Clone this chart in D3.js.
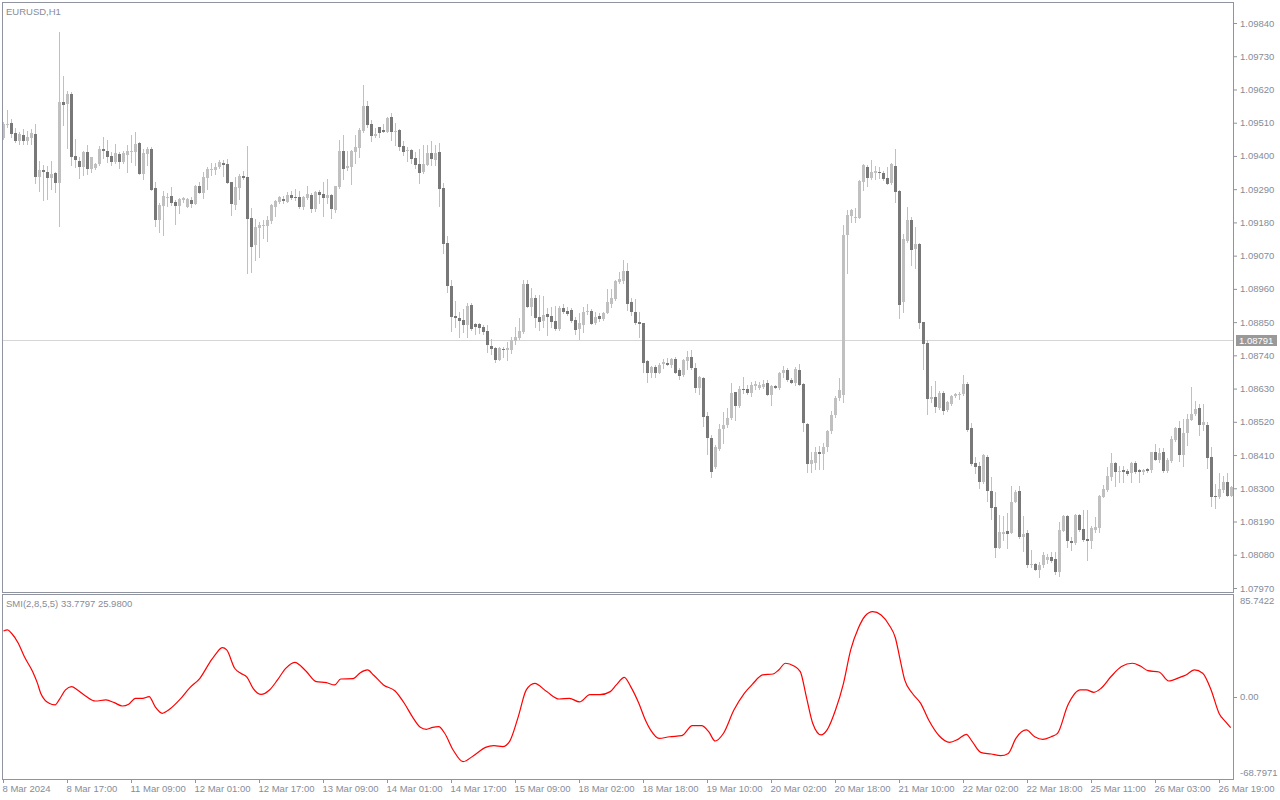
<!DOCTYPE html>
<html><head><meta charset="utf-8">
<script src="https://cdn.jsdelivr.net/npm/d3@7"></script>
<style>
html,body{margin:0;padding:0;background:#fff;overflow:hidden}
svg{display:block}
</style></head><body>
<svg id="c" width="1280" height="800"></svg>
<script>
const chartTitle = "EURUSD,H1";
const smiTitle = "SMI(2,8,5,5) 33.7797 25.9800";

const open = [1.09460,1.09502,1.09508,1.09476,1.09449,1.09469,1.09449,1.09460,1.09472,1.09330,
1.09353,1.09346,1.09327,1.09343,1.09311,1.09577,1.09573,1.09605,1.09399,1.09383,
1.09364,1.09413,1.09357,1.09359,1.09373,1.09423,1.09416,1.09399,1.09380,1.09407,
1.09380,1.09403,1.09413,1.09413,1.09444,1.09340,1.09407,1.09423,1.09294,1.09188,
1.09234,1.09260,1.09267,1.09247,1.09234,1.09254,1.09231,1.09254,1.09241,1.09301,
1.09277,1.09327,1.09354,1.09353,1.09362,1.09376,1.09373,1.09313,1.09238,1.09295,
1.09333,1.09330,1.09194,1.09106,1.09162,1.09169,1.09169,1.09185,1.09232,1.09248,
1.09258,1.09248,1.09270,1.09265,1.09264,1.09231,1.09262,1.09270,1.09225,1.09280,
1.09274,1.09262,1.09270,1.09222,1.09297,1.09416,1.09360,1.09363,1.09413,1.09426,
1.09482,1.09565,1.09505,1.09467,1.09495,1.09485,1.09480,1.09529,1.09479,1.09485,
1.09433,1.09417,1.09419,1.09393,1.09373,1.09346,1.09371,1.09410,1.09388,1.09413,
1.09294,1.09112,1.08970,1.08870,1.08864,1.08857,1.08842,1.08908,1.08845,1.08845,
1.08835,1.08822,1.08772,1.08764,1.08723,1.08762,1.08757,1.08759,1.08789,1.08799,
1.08817,1.08976,1.08900,1.08931,1.08867,1.08854,1.08878,1.08870,1.08854,1.08827,
1.08898,1.08888,1.08890,1.08857,1.08827,1.08842,1.08882,1.08887,1.08847,1.08870,
1.08860,1.08880,1.08910,1.08926,1.08984,1.08987,1.09019,1.08915,1.08884,1.08851,
1.08847,1.08720,1.08680,1.08703,1.08683,1.08713,1.08715,1.08709,1.08728,1.08690,
1.08676,1.08722,1.08735,1.08699,1.08633,1.08666,1.08540,1.08467,1.08369,1.08430,
1.08497,1.08508,1.08534,1.08620,1.08573,1.08630,1.08630,1.08617,1.08637,1.08632,
1.08636,1.08650,1.08610,1.08637,1.08632,1.08683,1.08692,1.08660,1.08647,1.08692,
1.08645,1.08514,1.08382,1.08385,1.08421,1.08412,1.08438,1.08488,1.08541,1.08598,
1.08609,1.09139,1.09201,1.09193,1.09195,1.09315,1.09365,1.09328,1.09345,1.09347,
1.09345,1.09328,1.09312,1.09368,1.09285,1.08918,1.09120,1.09188,1.09093,1.09109,
1.08852,1.08781,1.08594,1.08603,1.08565,1.08617,1.08559,1.08580,1.08607,1.08610,
1.08613,1.08646,1.08498,1.08385,1.08375,1.08322,1.08405,1.08292,1.08239,1.08104,
1.08150,1.08160,1.08153,1.08256,1.08292,1.08140,1.08153,1.08046,1.08049,1.08031,
1.08046,1.08064,1.08074,1.08067,1.08023,1.08159,1.08208,1.08127,1.08120,1.08212,
1.08166,1.08133,1.08127,1.08162,1.08169,1.08272,1.08294,1.08336,1.08383,1.08354,
1.08359,1.08357,1.08350,1.08383,1.08361,1.08354,1.08363,1.08359,1.08420,1.08395,
1.08419,1.08357,1.08391,1.08460,1.08500,1.08410,1.08484,1.08527,1.08545,1.08566,
1.08509,1.08511,1.08405,1.08274,1.08271,1.08294,1.08321,1.08276];

const high = [1.09513,1.09552,1.09521,1.09491,1.09478,1.09489,1.09482,1.09489,1.09505,1.09383,
1.09370,1.09366,1.09383,1.09348,1.09811,1.09664,1.09616,1.09612,1.09456,1.09397,
1.09416,1.09436,1.09396,1.09376,1.09434,1.09462,1.09452,1.09414,1.09440,1.09414,
1.09416,1.09436,1.09469,1.09479,1.09447,1.09423,1.09430,1.09430,1.09314,1.09245,
1.09285,1.09278,1.09297,1.09254,1.09260,1.09265,1.09260,1.09265,1.09303,1.09314,
1.09348,1.09364,1.09377,1.09375,1.09386,1.09388,1.09390,1.09314,1.09331,1.09340,
1.09351,1.09433,1.09227,1.09190,1.09182,1.09188,1.09201,1.09241,1.09254,1.09267,
1.09267,1.09281,1.09284,1.09290,1.09284,1.09269,1.09300,1.09276,1.09284,1.09287,
1.09313,1.09323,1.09274,1.09302,1.09452,1.09469,1.09416,1.09419,1.09469,1.09491,
1.09634,1.09583,1.09519,1.09491,1.09497,1.09505,1.09530,1.09543,1.09508,1.09488,
1.09449,1.09430,1.09424,1.09414,1.09423,1.09436,1.09436,1.09450,1.09436,1.09442,
1.09309,1.09135,1.08990,1.08920,1.08882,1.08894,1.08912,1.08912,1.08848,1.08848,
1.08842,1.08839,1.08795,1.08769,1.08769,1.08767,1.08784,1.08801,1.08835,1.08863,
1.08990,1.08990,1.08962,1.08941,1.08941,1.08937,1.08897,1.08900,1.08903,1.08903,
1.08911,1.08901,1.08896,1.08866,1.08879,1.08901,1.08910,1.08895,1.08884,1.08881,
1.08884,1.08960,1.08961,1.08990,1.09017,1.09056,1.09045,1.08929,1.08927,1.08884,
1.08847,1.08724,1.08705,1.08708,1.08714,1.08728,1.08732,1.08732,1.08734,1.08697,
1.08728,1.08755,1.08758,1.08714,1.08672,1.08670,1.08551,1.08477,1.08444,1.08513,
1.08552,1.08565,1.08650,1.08620,1.08637,1.08670,1.08642,1.08651,1.08655,1.08653,
1.08657,1.08657,1.08643,1.08642,1.08686,1.08705,1.08698,1.08666,1.08703,1.08712,
1.08648,1.08517,1.08421,1.08438,1.08440,1.08449,1.08493,1.08557,1.08607,1.08664,
1.09172,1.09221,1.09224,1.09229,1.09321,1.09374,1.09370,1.09385,1.09367,1.09365,
1.09351,1.09365,1.09378,1.09423,1.09287,1.09142,1.09232,1.09199,1.09166,1.09113,
1.08852,1.08791,1.08640,1.08656,1.08623,1.08623,1.08590,1.08609,1.08617,1.08620,
1.08676,1.08652,1.08515,1.08405,1.08388,1.08415,1.08409,1.08339,1.08289,1.08212,
1.08208,1.08217,1.08306,1.08295,1.08308,1.08208,1.08162,1.08096,1.08054,1.08057,
1.08090,1.08081,1.08088,1.08090,1.08190,1.08212,1.08212,1.08139,1.08214,1.08214,
1.08227,1.08228,1.08176,1.08206,1.08278,1.08311,1.08369,1.08416,1.08386,1.08374,
1.08374,1.08364,1.08388,1.08390,1.08363,1.08363,1.08366,1.08421,1.08446,1.08434,
1.08434,1.08399,1.08473,1.08504,1.08524,1.08528,1.08546,1.08636,1.08589,1.08578,
1.08580,1.08521,1.08436,1.08313,1.08351,1.08342,1.08350,1.08309];

const low = [1.09456,1.09497,1.09463,1.09447,1.09438,1.09438,1.09441,1.09438,1.09312,1.09285,
1.09255,1.09258,1.09292,1.09281,1.09169,1.09502,1.09425,1.09370,1.09364,1.09328,
1.09337,1.09339,1.09348,1.09357,1.09370,1.09392,1.09381,1.09370,1.09375,1.09361,
1.09378,1.09348,1.09381,1.09370,1.09339,1.09323,1.09370,1.09288,1.09168,1.09149,
1.09138,1.09234,1.09237,1.09174,1.09212,1.09248,1.09231,1.09231,1.09241,1.09277,
1.09262,1.09292,1.09337,1.09339,1.09359,1.09334,1.09309,1.09205,1.09225,1.09259,
1.09323,1.09011,1.09015,1.09056,1.09066,1.09129,1.09119,1.09179,1.09202,1.09245,
1.09245,1.09248,1.09258,1.09254,1.09228,1.09225,1.09258,1.09215,1.09219,1.09245,
1.09202,1.09245,1.09195,1.09215,1.09295,1.09324,1.09353,1.09308,1.09375,1.09397,
1.09480,1.09497,1.09450,1.09463,1.09463,1.09480,1.09480,1.09452,1.09436,1.09419,
1.09403,1.09384,1.09377,1.09359,1.09309,1.09343,1.09369,1.09371,1.09371,1.09234,
1.09080,1.08950,1.08822,1.08833,1.08802,1.08818,1.08800,1.08824,1.08811,1.08813,
1.08810,1.08750,1.08746,1.08719,1.08723,1.08736,1.08723,1.08747,1.08778,1.08795,
1.08815,1.08900,1.08874,1.08833,1.08824,1.08835,1.08807,1.08835,1.08823,1.08825,
1.08881,1.08873,1.08852,1.08811,1.08795,1.08818,1.08876,1.08844,1.08845,1.08854,
1.08857,1.08880,1.08901,1.08923,1.08981,1.08981,1.08890,1.08874,1.08843,1.08802,
1.08686,1.08653,1.08668,1.08668,1.08681,1.08698,1.08707,1.08703,1.08681,1.08661,
1.08672,1.08695,1.08695,1.08620,1.08612,1.08506,1.08414,1.08339,1.08366,1.08427,
1.08449,1.08503,1.08531,1.08526,1.08570,1.08615,1.08612,1.08604,1.08630,1.08628,
1.08632,1.08610,1.08575,1.08631,1.08630,1.08670,1.08654,1.08647,1.08643,1.08641,
1.08491,1.08355,1.08355,1.08363,1.08363,1.08365,1.08425,1.08484,1.08537,1.08593,
1.08587,1.09012,1.09183,1.09183,1.09193,1.09287,1.09299,1.09323,1.09323,1.09326,
1.09321,1.09306,1.09308,1.09249,1.08865,1.08885,1.09116,1.09039,1.09028,1.08829,
1.08696,1.08547,1.08587,1.08554,1.08562,1.08547,1.08557,1.08577,1.08602,1.08596,
1.08610,1.08490,1.08377,1.08350,1.08302,1.08319,1.08259,1.08200,1.08071,1.08101,
1.08129,1.08104,1.08151,1.08254,1.08135,1.08094,1.08039,1.08039,1.08028,1.08007,
1.08038,1.08054,1.08057,1.08017,1.08011,1.08159,1.08107,1.08097,1.08115,1.08159,
1.08127,1.08063,1.08103,1.08156,1.08156,1.08270,1.08292,1.08326,1.08306,1.08322,
1.08322,1.08344,1.08322,1.08352,1.08322,1.08347,1.08355,1.08355,1.08393,1.08388,
1.08355,1.08353,1.08388,1.08458,1.08390,1.08375,1.08443,1.08525,1.08541,1.08476,
1.08493,1.08368,1.08243,1.08234,1.08267,1.08289,1.08274,1.08276];

const close = [1.09505,1.09505,1.09473,1.09449,1.09472,1.09449,1.09462,1.09476,1.09330,1.09353,
1.09346,1.09327,1.09340,1.09311,1.09577,1.09569,1.09605,1.09397,1.09386,1.09364,
1.09413,1.09357,1.09396,1.09373,1.09423,1.09416,1.09396,1.09380,1.09409,1.09380,
1.09409,1.09416,1.09416,1.09439,1.09340,1.09409,1.09423,1.09288,1.09188,1.09237,
1.09267,1.09264,1.09244,1.09234,1.09257,1.09260,1.09257,1.09241,1.09301,1.09277,
1.09330,1.09357,1.09358,1.09363,1.09380,1.09370,1.09311,1.09242,1.09297,1.09333,
1.09328,1.09192,1.09099,1.09166,1.09172,1.09172,1.09188,1.09237,1.09252,1.09265,
1.09252,1.09270,1.09262,1.09262,1.09231,1.09265,1.09274,1.09225,1.09280,1.09271,
1.09262,1.09270,1.09225,1.09300,1.09416,1.09356,1.09366,1.09416,1.09430,1.09485,
1.09565,1.09502,1.09467,1.09472,1.09477,1.09480,1.09525,1.09480,1.09482,1.09429,
1.09413,1.09420,1.09390,1.09370,1.09343,1.09373,1.09410,1.09391,1.09410,1.09292,
1.09110,1.08971,1.08867,1.08862,1.08854,1.08842,1.08903,1.08828,1.08835,1.08832,
1.08818,1.08773,1.08762,1.08723,1.08763,1.08757,1.08764,1.08791,1.08801,1.08822,
1.08976,1.08900,1.08931,1.08864,1.08850,1.08874,1.08867,1.08850,1.08827,1.08898,
1.08884,1.08878,1.08854,1.08825,1.08848,1.08885,1.08887,1.08845,1.08867,1.08860,
1.08880,1.08917,1.08930,1.08986,1.08994,1.09019,1.08911,1.08882,1.08848,1.08845,
1.08716,1.08680,1.08703,1.08683,1.08709,1.08717,1.08709,1.08728,1.08683,1.08673,
1.08725,1.08733,1.08697,1.08633,1.08670,1.08537,1.08465,1.08355,1.08438,1.08497,
1.08511,1.08534,1.08617,1.08573,1.08630,1.08627,1.08617,1.08643,1.08645,1.08643,
1.08645,1.08610,1.08637,1.08633,1.08682,1.08692,1.08659,1.08650,1.08695,1.08643,
1.08515,1.08382,1.08392,1.08421,1.08412,1.08438,1.08490,1.08541,1.08599,1.08626,
1.09139,1.09205,1.09221,1.09198,1.09317,1.09370,1.09328,1.09348,1.09350,1.09345,
1.09325,1.09308,1.09374,1.09282,1.08908,1.09125,1.09188,1.09090,1.09109,1.08848,
1.08779,1.08597,1.08603,1.08570,1.08617,1.08557,1.08587,1.08607,1.08613,1.08613,
1.08646,1.08492,1.08382,1.08372,1.08322,1.08409,1.08292,1.08235,1.08104,1.08157,
1.08157,1.08150,1.08256,1.08289,1.08140,1.08149,1.08047,1.08050,1.08031,1.08046,
1.08079,1.08074,1.08059,1.08023,1.08162,1.08208,1.08127,1.08120,1.08212,1.08162,
1.08129,1.08127,1.08169,1.08172,1.08276,1.08298,1.08340,1.08383,1.08355,1.08357,
1.08355,1.08347,1.08383,1.08353,1.08353,1.08361,1.08358,1.08420,1.08395,1.08416,
1.08358,1.08394,1.08463,1.08500,1.08410,1.08484,1.08530,1.08546,1.08564,1.08509,
1.08519,1.08401,1.08271,1.08271,1.08298,1.08321,1.08276,1.08303];

const priceTicks = [1.09840,1.09730,1.09620,1.09510,1.09400,1.09290,1.09180,1.09070,1.08960,
1.08850,1.08740,1.08630,1.08520,1.08410,1.08300,1.08190,1.08080,1.07970];
const currentPrice = 1.08791;

const timeTickBars = [0,16,32,48,64,80,96,112,128,144,160,176,192,208,224,240,256,272,288,304];
const timeTickLabels = ["8 Mar 2024","8 Mar 17:00","11 Mar 09:00","12 Mar 01:00","12 Mar 17:00",
"13 Mar 09:00","14 Mar 01:00","14 Mar 17:00","15 Mar 09:00","18 Mar 02:00","18 Mar 18:00",
"19 Mar 10:00","20 Mar 02:00","20 Mar 18:00","21 Mar 10:00","22 Mar 02:00","22 Mar 18:00",
"25 Mar 11:00","26 Mar 03:00","26 Mar 19:00"];

const smiBar = [0,1,2,3.7,5.2,7.3,8.5,9.3,10.3,11.4,
12.9,13.9,15.5,17,18.5,20.5,23,25.6,27.7,29.7,
31.3,33,34.8,36.4,37.9,39.7,41.5,44,46.6,49.1,
51.7,53.2,54.7,55.8,57.8,59.3,60.9,62.4,64.4,66.5,
68.5,70.5,72.8,75.6,78.2,80.7,82.8,84.3,87.4,89.2,
91,92.5,95,97.9,100.2,102.2,104.2,105.7,107.3,108.8,
110.3,112.4,114.9,117.5,120.5,122.6,124.8,126.5,128.7,130.7,
132.8,135.8,138.9,141.5,144,146.6,149.1,151.7,153.2,155.2,
156.8,158.8,160.3,161.8,163.9,166.5,169.6,172.2,174.5,176.3,
177.9,180,182.6,185.2,187.2,189.8,192.4,193.8,195.5,197.6,
199.2,200.7,202.3,204.4,205.9,208,210,211.8,213.7,215.4,
217.3,219.4,221.4,223,224,225.3,227.2,229.3,231.3,233.9,
236.5,238.6,240.7,242.2,244.3,246.9,249.3,251.2,253.1,255.7,
257.8,259.8,261.9,263.5,266.1,269.2,270.7,272.6,274.4,277,
279.5,282.2,284.2,286.1,288.9,291.3,294.1,295.6,297.7,299.8,
301.9,303.9,305.5,306.8];
const smiVal = [55.5,56.4,53.6,45.2,34.0,21.3,11.5,3.2,-2.4,-5.2,
-6.6,-2.4,6.0,8.8,6.0,1.0,-3.3,-2.4,-4.7,-7.5,
-6.0,-1.0,-1.0,0.4,-8.0,-13.6,-10.3,-2.4,8.0,15.8,
29.8,36.8,41.5,39.6,24.2,20.0,16.6,7.4,2.3,6.0,
14.4,23.9,29.2,21.9,13.0,12.1,10.2,15.2,15.5,20.5,
22.8,18.6,10.2,5.1,-5.2,-16.4,-25.4,-27.1,-25.4,-24.8,
-30.4,-44.4,-54.2,-49.2,-42.2,-40.8,-41.6,-37.4,-16.4,6.0,
11.5,4.6,-1.6,-1.0,-4.1,2.0,2.0,4.6,10.2,16.6,
8.8,-5.0,-17.9,-27.7,-34.7,-33.3,-32.4,-24.0,-24.0,-29.0,
-36.9,-30.4,-10.9,3.2,10.7,18.6,19.4,22.8,28.4,26.1,
21.4,0.4,-22.0,-31.8,-27.6,-10.9,11.6,39.6,57.8,68.1,
71.8,69.0,60.6,49.4,34.0,14.4,3.2,-5.3,-19.3,-32.5,
-38.0,-35.5,-31.3,-37.5,-46.4,-47.8,-49.2,-47.3,-34.7,-27.6,
-33.3,-35.5,-33.3,-30.5,-6.7,6.0,6.0,4.0,7.4,17.7,
25.6,28.4,26.1,22.2,21.1,13.5,16.6,18.6,22.8,20.0,
6.0,-13.7,-20.7,-25.7];
const smiMax = 85.7422, smiMin = -68.7971;
const smiTickVals = [85.7422, 0, -68.7971];
const smiTickLabels = ["85.7422", "0.00", "-68.7971"];

// ---------- drawing ----------
const FONT = '"Liberation Sans", Arial, sans-serif';
const FS = 9.5;
const textCol = '#868c98';
const frameCol = '#8f949e';
const bullCol = '#c0c0c0';
const bearCol = '#787878';
const wickCol = '#c0c0c0';

const svg = d3.select('#c');
const n = close.length;

const x = d3.scaleLinear().domain([0, n - 1]).range([3, 3 + 4 * (n - 1)]);
const y = d3.scaleLinear().domain([1.07970, 1.09840]).range([588, 23]);
const ys = d3.scaleLinear().domain([smiMin, smiMax]).range([779, 595]);

const defs = svg.append('defs');
defs.append('clipPath').attr('id', 'mainClip').append('rect')
  .attr('x', 3).attr('y', 3).attr('width', 1230).attr('height', 589);
defs.append('clipPath').attr('id', 'smiClip').append('rect')
  .attr('x', 3).attr('y', 595).attr('width', 1230).attr('height', 184);

// current price line
const cy = Math.round(y(currentPrice)) + 0.5;
svg.append('line').attr('x1', 3).attr('x2', 1233).attr('y1', cy).attr('y2', cy)
  .attr('stroke', '#d6d6d6').attr('stroke-width', 1);

// candles
const candles = svg.append('g').attr('clip-path', 'url(#mainClip)')
  .attr('shape-rendering', 'crispEdges');
const idx = d3.range(n);
candles.selectAll('line.wick').data(idx).join('line').attr('class', 'wick')
  .attr('x1', i => x(i) + 0.5).attr('x2', i => x(i) + 0.5)
  .attr('y1', i => Math.round(y(high[i])))
  .attr('y2', i => Math.round(y(low[i])) + 1)
  .attr('stroke', wickCol).attr('stroke-width', 1);
candles.selectAll('rect.body').data(idx).join('rect').attr('class', 'body')
  .attr('x', i => x(i) - 1).attr('width', 3)
  .attr('y', i => Math.round(y(Math.max(open[i], close[i]))))
  .attr('height', i => Math.max(1, Math.round(y(Math.min(open[i], close[i]))) - Math.round(y(Math.max(open[i], close[i])))))
  .attr('fill', i => close[i] >= open[i] ? bullCol : bearCol);

// SMI line
const line = d3.line().x((d, i) => x(smiBar[i]) + 0.5).y((d) => ys(d)).curve(d3.curveMonotoneX);
svg.append('path').attr('clip-path', 'url(#smiClip)').datum(smiVal)
  .attr('d', line).attr('fill', 'none').attr('stroke', '#ff0000').attr('stroke-width', 1.2);

// frames
svg.append('rect').attr('x', 2.5).attr('y', 2.5).attr('width', 1231).attr('height', 590)
  .attr('fill', 'none').attr('stroke', frameCol);
svg.append('rect').attr('x', 2.5).attr('y', 594.5).attr('width', 1231).attr('height', 185)
  .attr('fill', 'none').attr('stroke', frameCol);

// price axis
const gy = svg.append('g').attr('transform', 'translate(1233,0)')
  .call(d3.axisRight(y).tickValues(priceTicks).tickFormat(d3.format('.5f')).tickSize(4).tickPadding(3));
gy.select('.domain').remove();
gy.selectAll('.tick line').attr('stroke', frameCol);
gy.selectAll('.tick text').attr('fill', textCol).style('font-family', FONT).style('font-size', FS + 'px');

// current price label
const cp = svg.append('g');
cp.append('rect').attr('x', 1236).attr('y', cy - 5.5).attr('width', 41).attr('height', 11).attr('fill', '#999999');
cp.append('text').attr('x', 1239).attr('y', cy).attr('dy', '0.34em').text(d3.format('.5f')(currentPrice))
  .attr('fill', '#ffffff').style('font-family', FONT).style('font-size', FS + 'px');

// time axis
const gx = svg.append('g').attr('transform', 'translate(0,779)')
  .call(d3.axisBottom(x).tickValues(timeTickBars).tickFormat((d, i) => timeTickLabels[i]).tickSize(4).tickPadding(2));
gx.select('.domain').remove();
gx.selectAll('.tick line').attr('stroke', frameCol);
gx.selectAll('.tick text').attr('fill', textCol).attr('text-anchor', 'start').attr('x', -1)
  .style('font-family', FONT).style('font-size', FS + 'px');

// SMI axis labels
const sAx = svg.append('g');
smiTickVals.forEach((v, i) => {
  const yy = ys(v);
  const off = i === 0 ? 6 : (i === smiTickVals.length - 1 ? -6 : 0);
  if (i === 1) {
    sAx.append('line').attr('x1', 1233).attr('x2', 1237).attr('y1', Math.round(yy) + 0.5).attr('y2', Math.round(yy) + 0.5)
      .attr('stroke', frameCol);
  }
  sAx.append('text').attr('x', 1240).attr('y', yy + off).attr('dy', '0.34em').text(smiTickLabels[i])
    .attr('fill', textCol).style('font-family', FONT).style('font-size', FS + 'px');
});

// titles
svg.append('text').attr('x', 6).attr('y', 15).text(chartTitle)
  .attr('fill', textCol).style('font-family', FONT).style('font-size', FS + 'px');
svg.append('text').attr('x', 6).attr('y', 607).text(smiTitle)
  .attr('fill', textCol).style('font-family', FONT).style('font-size', FS + 'px');
</script>
</body></html>
